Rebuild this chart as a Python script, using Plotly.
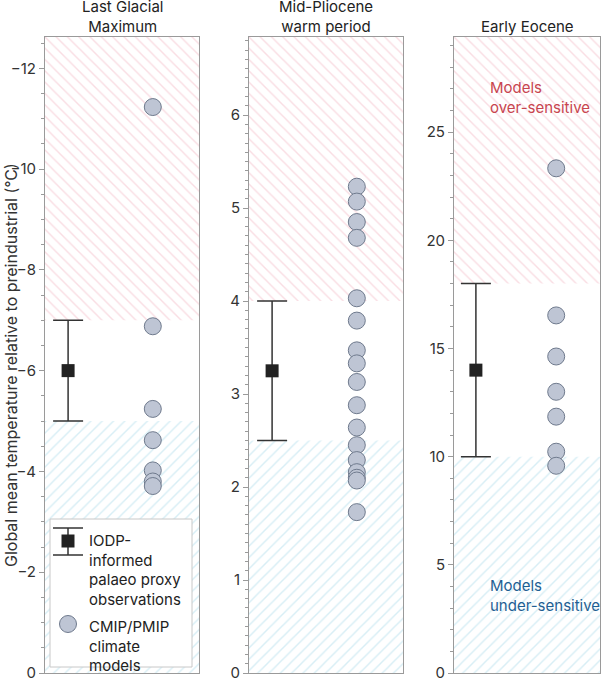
import plotly.graph_objects as go
from plotly.subplots import make_subplots

# ---------------- data ----------------
periods = ["Last Glacial<br>Maximum", "Mid-Pliocene<br>warm period", "Early Eocene"]
obs_mean = [-6.0, 3.25, 14.0]
obs_err = [1.0, 0.75, 4.0]
lgm_models = [-11.23, -6.88, -5.24, -4.62, -4.02, -3.80, -3.71]
mpwp_models = [5.23, 5.07, 4.85, 4.68, 4.03, 3.79, 3.47, 3.33, 3.13, 2.88,
               2.64, 2.45, 2.29, 2.16, 2.10, 2.07, 1.73]
eeo_models = [23.33, 16.53, 14.63, 13.00, 11.85, 10.23, 9.58]
models = [lgm_models, mpwp_models, eeo_models]
y_ranges = [[0, -12.62], [0, 6.84], [0, 29.4]]
y_dticks = [2, 1, 5]
y_minor = [0.5, 0.1, 1]

# ---------------- styling ----------------
FONT = "Inter"
RED_HATCH = "#f4bcc7"
BLUE_HATCH = "#b0ddec"
PT_FILL = "#bec5d4"
PT_LINE = "#6f7a8d"
OBS_COL = "#222222"
AX_COL = "#9a9a9a"
OBS_X = 0.15
MOD_X = 0.70

W, H = 609, 680
L, R, T, B = 45, 9, 37, 7
pw = W - L - R
bounds = [(45, 199), (249, 403), (454, 600)]
domains = [((a - L) / pw, (b - L) / pw) for a, b in bounds]

fig = make_subplots(rows=1, cols=3)

for i in range(3):
    col = i + 1
    m, e = obs_mean[i], obs_err[i]
    neg = m < 0
    lo_val, hi_val = (m + e, m - e) if neg else (m - e, m + e)  # lo: toward 0
    top = y_ranges[i][1] * 1.2
    fig.add_trace(go.Bar(
        x=[0.5], y=[top - hi_val], base=[hi_val], width=[1.0],
        marker=dict(color="white", line=dict(width=0),
                    pattern=dict(shape="\\", fgcolor=RED_HATCH, bgcolor="white",
                                 size=8, solidity=0.18)),
        showlegend=False, hoverinfo="skip"), row=1, col=col)
    fig.add_trace(go.Bar(
        x=[0.5], y=[lo_val], base=[0], width=[1.0],
        marker=dict(color="white", line=dict(width=0),
                    pattern=dict(shape="/", fgcolor=BLUE_HATCH, bgcolor="white",
                                 size=8, solidity=0.18)),
        showlegend=False, hoverinfo="skip"), row=1, col=col)
    fig.add_trace(go.Scatter(
        x=[OBS_X], y=[m], mode="markers",
        marker=dict(symbol="square", size=13, color=OBS_COL),
        error_y=dict(type="data", array=[e], symmetric=True, color="#333333",
                     thickness=1.5, width=15),
        showlegend=False, hoverinfo="skip"), row=1, col=col)
    fig.add_trace(go.Scatter(
        x=[MOD_X] * len(models[i]), y=models[i], mode="markers",
        marker=dict(size=17, color=PT_FILL, line=dict(color=PT_LINE, width=1)),
        showlegend=False, hoverinfo="skip"), row=1, col=col)

    xa = "xaxis" if i == 0 else f"xaxis{col}"
    ya = "yaxis" if i == 0 else f"yaxis{col}"
    fig.layout[xa].update(domain=list(domains[i]), range=[0, 1], showticklabels=False,
                          ticks="", showgrid=False, zeroline=False, showline=True,
                          mirror=True, linecolor=AX_COL, linewidth=1, fixedrange=True,
                          automargin=False)
    fig.layout[ya].update(range=y_ranges[i], dtick=y_dticks[i], tick0=0, ticks="outside",
                          ticklen=5, tickcolor=AX_COL, tickwidth=1,
                          minor=dict(dtick=y_minor[i], ticks="outside", ticklen=3,
                                     tickcolor=AX_COL, showgrid=False),
                          showgrid=False, zeroline=False, showline=True, mirror=True,
                          linecolor=AX_COL, linewidth=1, automargin=False,
                          ticklabeloverflow="allow",
                          tickfont=dict(family=FONT, size=15, color="#333333"))
    fig.add_annotation(text=periods[i], x=sum(domains[i]) / 2, y=1.0, xref="paper",
                       yref="paper", xanchor="center", yanchor="bottom", yshift=-1,
                       showarrow=False, align="center",
                       font=dict(family=FONT, size=15, color="#222222"))

# y-axis title as rotated annotation
fig.add_annotation(text="Global mean temperature relative to preindustrial (°C)",
                   x=(11 - L) / pw, y=(673 - 365) / (H - T - B), xref="paper", yref="paper",
                   xanchor="center", yanchor="middle", textangle=-90, showarrow=False,
                   font=dict(family=FONT, size=16, color="#333333"))

ph = H - T - B
def yd(py):
    return (H - B - py) / ph
def xd(px):
    return (px - 45) / 154

fig.add_annotation(text="Models<br>over-sensitive", x=0.23, y=yd(76),
                   xref="x3 domain", yref="paper", xanchor="left", yanchor="top",
                   showarrow=False, align="left",
                   font=dict(family=FONT, size=15, color="#c8454f"))
fig.add_annotation(text="Models<br>under-sensitive", x=0.23, y=yd(574),
                   xref="x3 domain", yref="paper", xanchor="left", yanchor="top",
                   showarrow=False, align="left",
                   font=dict(family=FONT, size=15, color="#1f5f93"))

# ---------------- manual legend (panel 1) ----------------
fig.add_shape(type="rect", xref="x domain", yref="y domain",
              x0=xd(50), x1=xd(192), y0=yd(667), y1=yd(519),
              line=dict(color="#c8c8c8", width=1), fillcolor="white", layer="above")
lc = dict(color="#333333", width=1.5)
for py in (528, 555):
    fig.add_shape(type="line", xref="x domain", yref="y domain",
                  x0=xd(53), x1=xd(83), y0=yd(py), y1=yd(py), line=lc, layer="above")
fig.add_shape(type="line", xref="x domain", yref="y domain",
              x0=xd(68), x1=xd(68), y0=yd(528), y1=yd(555), line=lc, layer="above")
fig.add_shape(type="rect", xref="x domain", yref="y domain", xsizemode="pixel",
              ysizemode="pixel", xanchor=xd(68), yanchor=yd(541),
              x0=-6.5, x1=6.5, y0=-6.5, y1=6.5, line=dict(width=0),
              fillcolor=OBS_COL, layer="above")
fig.add_shape(type="circle", xref="x domain", yref="y domain", xsizemode="pixel",
              ysizemode="pixel", xanchor=xd(68), yanchor=yd(624),
              x0=-8.5, x1=8.5, y0=-8.5, y1=8.5, line=dict(color=PT_LINE, width=1),
              fillcolor=PT_FILL, layer="above")
fig.add_annotation(text="IODP-<br>informed<br>palaeo proxy<br>observations",
                   x=xd(87), y=yd(529), xref="x domain", yref="y domain",
                   xanchor="left", yanchor="top", showarrow=False, align="left",
                   font=dict(family=FONT, size=15, color="#222222"))
fig.add_annotation(text="CMIP/PMIP<br>climate<br>models",
                   x=xd(87), y=yd(615), xref="x domain", yref="y domain",
                   xanchor="left", yanchor="top", showarrow=False, align="left",
                   font=dict(family=FONT, size=15, color="#222222"))

fig.update_layout(width=W, height=H, margin=dict(l=L, r=R, t=T, b=B, autoexpand=False),
                  plot_bgcolor="white", paper_bgcolor="white", barmode="overlay",
                  font=dict(family=FONT, color="#222222"))

fig.write_html("out.html", config={"displayModeBar": False},
               post_script="document.body.style.margin='0px';")
